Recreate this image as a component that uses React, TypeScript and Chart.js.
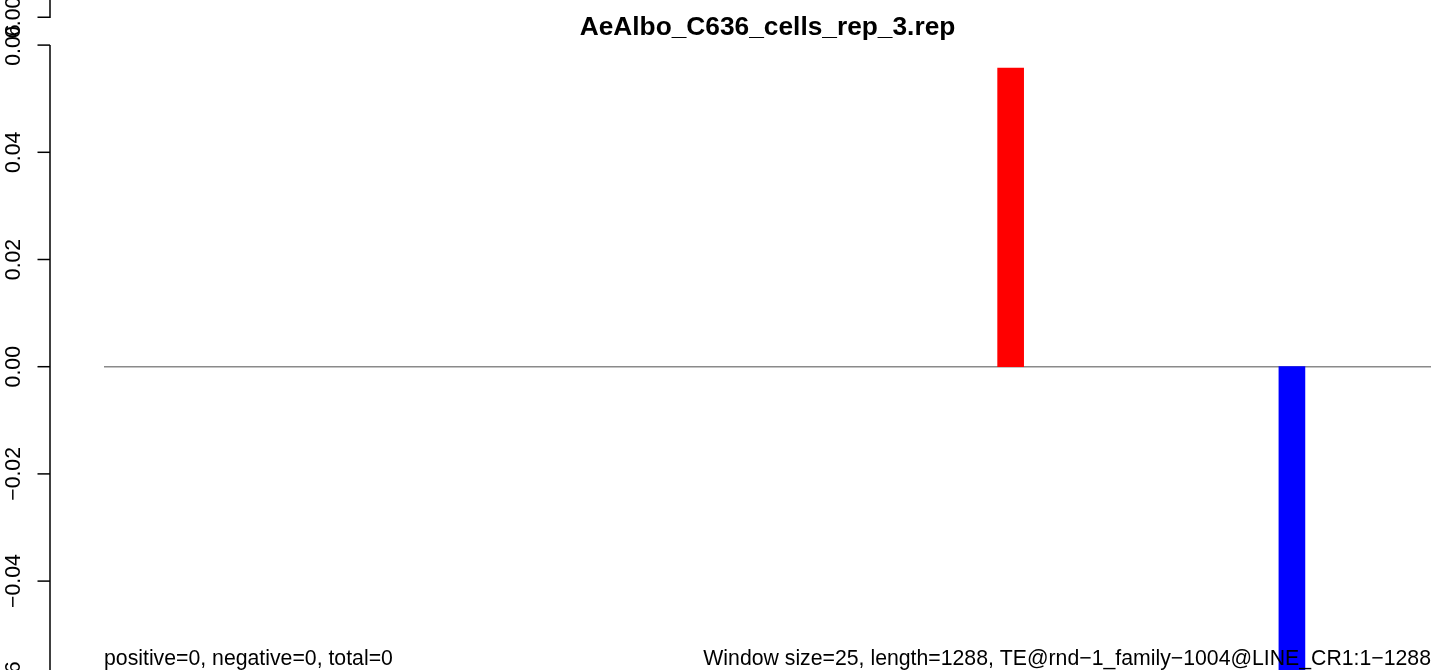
import React, { useEffect, useRef } from "react";
import { Chart, registerables } from "chart.js";

Chart.register(...registerables);

// ---- data ----
const chartTitle = "AeAlbo_C636_cells_rep_3.rep";
const windowCentersBp = [880, 1153];
const windowValues = [0.0557, -0.06];
const barColors = ["#FF0000", "#0000FF"];
const sequenceLength = 1288;
const yTickValues = [-0.06, -0.04, -0.02, 0, 0.02, 0.04, 0.06];
const yTickLabels = ["\u22120.06", "\u22120.04", "\u22120.02", "0.00", "0.02", "0.04", "0.06"];
const upperPanelTickLabel = "0.00";
const leftNote = "positive=0, negative=0, total=0";
const rightNote =
  "Window size=25, length=1288, TE@rnd\u22121_family\u22121004@LINE_CR1:1\u22121288";

const FONT = "'Liberation Sans', Arial, Helvetica, sans-serif";

const decorPlugin = {
  id: "rDecor",
  afterDraw(chart: any) {
    const ctx = chart.ctx;
    const ys = chart.scales.y;
    const area = chart.chartArea;
    ctx.save();
    // title
    ctx.fillStyle = "#000";
    ctx.font = `bold 26.3px ${FONT}`;
    ctx.textAlign = "center";
    ctx.textBaseline = "alphabetic";
    ctx.fillText(chartTitle, (area.left + area.right) / 2, 35);

    // bottom notes
    ctx.font = `21.25px ${FONT}`;
    ctx.textAlign = "left";
    ctx.fillText(leftNote, area.left, 665);
    ctx.textAlign = "right";
    ctx.fillText(rightNote, area.right, 665);

    // y axis (R style, offset to the left)
    const axisX = 50;
    const tickLen = 12.5;
    const topPx = ys.getPixelForValue(yTickValues[yTickValues.length - 1]);
    const botPx = ys.getPixelForValue(yTickValues[0]);
    ctx.strokeStyle = "#000";
    ctx.lineWidth = 1.5;
    ctx.beginPath();
    ctx.moveTo(axisX, topPx);
    ctx.lineTo(axisX, botPx);
    ctx.stroke();
    ctx.font = `21.25px ${FONT}`;
    ctx.textAlign = "center";
    ctx.textBaseline = "alphabetic";
    yTickValues.forEach((v, i) => {
      const py = ys.getPixelForValue(v);
      ctx.beginPath();
      ctx.moveTo(axisX - tickLen, py);
      ctx.lineTo(axisX, py);
      ctx.stroke();
      ctx.save();
      ctx.translate(20, py);
      ctx.rotate(-Math.PI / 2);
      ctx.fillText(yTickLabels[i], 0, 0);
      ctx.restore();
    });

    // fragment of the panel above
    const upY = 17.3;
    ctx.beginPath();
    ctx.moveTo(axisX, 0);
    ctx.lineTo(axisX, upY);
    ctx.lineTo(axisX - tickLen, upY);
    ctx.stroke();
    ctx.save();
    ctx.translate(20, upY);
    ctx.rotate(-Math.PI / 2);
    ctx.fillText(upperPanelTickLabel, 0, 0);
    ctx.restore();

    ctx.restore();
  },
};

export default function App() {
  const ref = useRef<HTMLCanvasElement | null>(null);

  useEffect(() => {
    document.body.style.margin = "0";
    document.documentElement.style.overflow = "hidden";
    const canvas = ref.current;
    if (!canvas) return;
    const pxPerUnit = 5360;
    const zeroPx = 366.7;
    const chart = new Chart(canvas, {
      type: "bar",
      data: {
        datasets: [
          {
            type: "line",
            data: [
              { x: 0, y: 0 },
              { x: sequenceLength, y: 0 },
            ],
            borderColor: "#8a8a8a",
            borderWidth: 1.5,
            pointRadius: 0,
            order: 2,
          } as any,
          {
            type: "bar",
            data: windowCentersBp.map((x, i) => ({ x, y: windowValues[i] })),
            backgroundColor: barColors,
            borderWidth: 0,
            barThickness: 26,
            order: 1,
          } as any,
        ],
      },
      options: {
        animation: false,
        responsive: false,
        devicePixelRatio: 1,
        layout: { padding: { left: 104, right: 2, top: 0, bottom: 0 } },
        plugins: {
          legend: { display: false },
          tooltip: { enabled: false },
          title: { display: false },
        },
        scales: {
          x: {
            type: "linear",
            min: 0,
            max: sequenceLength,
            offset: false,
            display: false,
          },
          y: {
            type: "linear",
            min: -(670 - zeroPx) / pxPerUnit,
            max: zeroPx / pxPerUnit,
            display: false,
          },
        },
      },
      plugins: [decorPlugin],
    } as any);
    return () => chart.destroy();
  }, []);

  return (
    <div style={{ width: 1433, height: 670, overflow: "hidden", background: "#fff" }}>
      <canvas ref={ref} width={1433} height={670} style={{ display: "block" }} />
    </div>
  );
}
